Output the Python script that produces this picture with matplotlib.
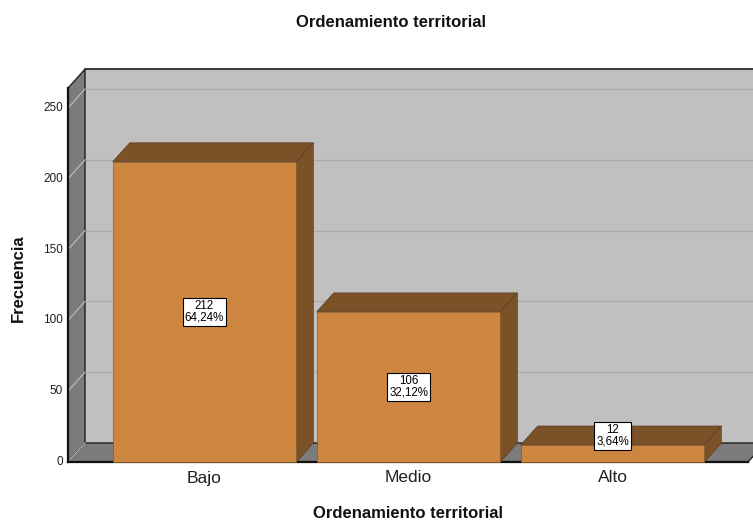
import matplotlib
matplotlib.use("Agg")
import matplotlib.pyplot as plt
from matplotlib.patches import Polygon

categories = ["Bajo", "Medio", "Alto"]
counts = [212, 106, 12]
percents = ["64,24%", "32,12%", "3,64%"]
yticks = [0, 50, 100, 150, 200, 250]
title = "Ordenamiento territorial"
xlabel = "Ordenamiento territorial"
ylabel = "Frecuencia"

plt.rcParams['font.family'] = ['Liberation Sans', 'DejaVu Sans']

W, H = 753, 522
fig = plt.figure(figsize=(W / 100, H / 100), dpi=100)
ax = fig.add_axes([0, 0, 1, 1])
ax.axis("off")

# pixel mapping helpers (layout only)
X0PX, CATPX = 204.5, 204.0      # x pixel of first category, px per category
Y0PX, VALPX = 462.0, 1.416      # y pixel (from top) of value 0, px per unit
ax.set_xlim((0 - X0PX) / CATPX, (W - X0PX) / CATPX)
ax.set_ylim((Y0PX - H) / VALPX, Y0PX / VALPX)

DX = 17 / CATPX
DY = 19 / VALPX
xl = (68 - X0PX) / CATPX
xr = (748 - X0PX) / CATPX
top = 264
bw = 0.9

wall_back = "#c0c0c0"
wall_side = "#7b7b7b"
bar_front = "#cd8640"
bar_dark = "#7b5228"

# back wall
ax.add_patch(Polygon([(xl + DX, DY), (xr + DX + 1, DY), (xr + DX + 1, top + DY), (xl + DX, top + DY)],
                     closed=True, facecolor=wall_back, edgecolor="none", zorder=1))
ax.plot([xl + DX, xr + DX + 1], [top + DY, top + DY], color="#202020", lw=1.2, zorder=2)
# gridlines
for t in yticks[1:]:
    ax.plot([xl + DX, xr + DX + 1], [t + DY, t + DY], color="#a9a9a9", lw=0.9, zorder=2)
# left wall
ax.add_patch(Polygon([(xl, 0), (xl + DX, DY), (xl + DX, top + DY), (xl, top)],
                     closed=True, facecolor=wall_side, edgecolor="#202020", lw=1.0, zorder=3))
for t in yticks[1:]:
    ax.plot([xl, xl + DX], [t, t + DY], color="#b8b8b8", lw=0.9, zorder=4)
# floor
ax.add_patch(Polygon([(xl, 0), (xr, 0), (xr + DX, DY), (xl + DX, DY)],
                     closed=True, facecolor=wall_side, edgecolor="#202020", lw=1.0, zorder=3))
ax.plot([xl, xl + DX], [0, DY], color="#b8b8b8", lw=0.9, zorder=4)
ax.plot([xl, xr], [0, 0], color="#101010", lw=1.6, zorder=4)
ax.plot([xl, xl], [0, top], color="#101010", lw=1.6, zorder=4)

# bars
for i, (c, v, p) in enumerate(zip(categories, counts, percents)):
    x0, x1 = i - bw / 2, i + bw / 2
    ax.add_patch(Polygon([(x0, v), (x1, v), (x1 + DX, v + DY), (x0 + DX, v + DY)],
                         closed=True, facecolor=bar_dark, edgecolor="#5a3b1c", lw=0.5, zorder=5))
    ax.add_patch(Polygon([(x1, 0), (x1 + DX, DY), (x1 + DX, v + DY), (x1, v)],
                         closed=True, facecolor=bar_dark, edgecolor="#5a3b1c", lw=0.5, zorder=5))
    ax.add_patch(Polygon([(x0, 0), (x1, 0), (x1, v), (x0, v)],
                         closed=True, facecolor=bar_front, edgecolor="#8a5a2a", lw=0.5, zorder=6))
    ly = max(v / 2, 18.4)
    ax.text(i, ly, f"{v}\n{p}", ha="center", va="center", fontsize=8.3, linespacing=0.92,
            color="black", zorder=8,
            bbox=dict(boxstyle="square,pad=0.2", facecolor="white", edgecolor="black", lw=0.8))
    ax.text(i, (Y0PX - 478) / VALPX, c, ha="center", va="center", fontsize=12.5, color="#202020", zorder=8)

# y tick labels
for t in yticks:
    ax.text((63 - X0PX) / CATPX, t, str(t), ha="right", va="center", fontsize=8.5, color="#202020")

ax.text((391 - X0PX) / CATPX, (Y0PX - 22) / VALPX, title, ha="center", va="center",
        fontsize=12, fontweight="bold", color="#111111")
ax.text((408 - X0PX) / CATPX, (Y0PX - 514) / VALPX, xlabel, ha="center", va="center",
        fontsize=12, fontweight="bold", color="#111111")
ax.text((18 - X0PX) / CATPX, (Y0PX - 278) / VALPX, ylabel, ha="center", va="center",
        fontsize=12, fontweight="bold", rotation=90, color="#111111")

fig.savefig("out.png", dpi=100)
